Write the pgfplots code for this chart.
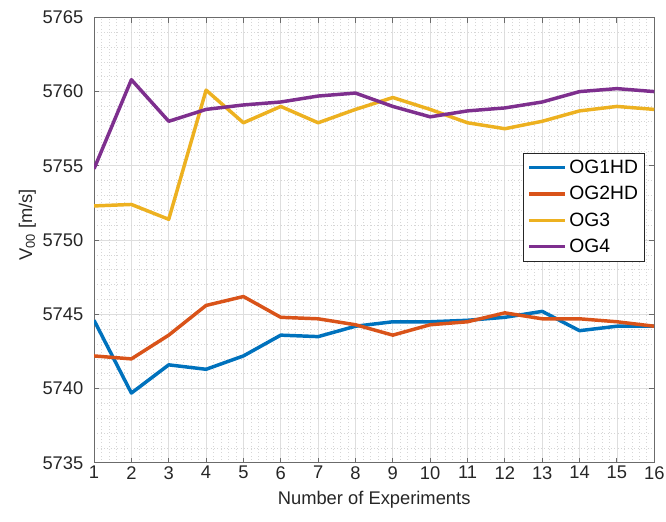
\documentclass[border=0pt]{standalone}
\usepackage{fontspec}
\setmainfont{Liberation Sans}
\usepackage{pgfplots}
\pgfplotsset{compat=1.18}

\definecolor{mblue}{rgb}{0,0.447,0.741}
\definecolor{morange}{rgb}{0.85,0.325,0.098}
\definecolor{myellow}{rgb}{0.929,0.694,0.125}
\definecolor{mpurple}{rgb}{0.494,0.184,0.556}
\definecolor{gridmaj}{rgb}{0.87,0.87,0.87}
\definecolor{gridmin}{rgb}{0.84,0.84,0.84}
\definecolor{axgray}{rgb}{0.42,0.42,0.42}
\definecolor{txt}{rgb}{0.15,0.15,0.15}

\begin{document}
\begin{tikzpicture}
\begin{axis}[
  name=ax,
  scale only axis,
  width=420bp, height=334bp,
  xmin=1, xmax=16, ymin=5735, ymax=5765,
  xtick={1,...,16}, ytick={5735,5740,...,5765},
  minor x tick num=4, minor y tick num=4,
  grid=both,
  major grid style={gridmaj, line width=0.6pt},
  minor grid style={gridmin, line width=0.5pt, dash pattern=on 0.5bp off 2bp},
  axis line style={axgray, line width=0.6pt},
  tick style={axgray, line width=0.7pt},
  major tick length=4bp, minor tick length=0pt,
  tick align=inside,
  /pgf/number format/assume math mode=true,
  /pgf/number format/set thousands separator={},
  tick label style={font=\fontsize{13.8}{15}\selectfont, text=txt},
  xticklabel style={yshift=1bp},
  yticklabel style={xshift=-4.5bp},
  label style={font=\fontsize{13.8}{15}\selectfont, text=txt},
  xlabel={Number of Experiments},
  ylabel={V\textsubscript{00} [m/s]},
  xlabel style={at={(axis description cs:0.5,-0.0943)}, anchor=base},
  ylabel style={at={(axis description cs:-0.1107,0.534)}, anchor=base},
  legend style={at={(0.9835,0.6965)}, anchor=north east,
    font=\fontsize{14.5}{15}\selectfont, draw=black!85, line width=0.6pt,
    fill=white, row sep=4.2bp, inner xsep=3bp, inner ysep=3.2bp,
    /tikz/every even column/.style={column sep=0bp}},
  legend cell align=left,
  legend image code/.code={\draw[#1, line width=2.6bp] (0bp,0bp) -- (27bp,0bp);},
  every axis plot/.append style={line width=2.6bp, line join=round},
]
\addplot[mblue] coordinates {
 (1,5744.6) (2,5739.7) (3,5741.6) (4,5741.3) (5,5742.2) (6,5743.6) (7,5743.5) (8,5744.2)
 (9,5744.5) (10,5744.5) (11,5744.6) (12,5744.8) (13,5745.2) (14,5743.9) (15,5744.2) (16,5744.2)};
\addplot[morange] coordinates {
 (1,5742.2) (2,5742.0) (3,5743.6) (4,5745.6) (5,5746.2) (6,5744.8) (7,5744.7) (8,5744.3)
 (9,5743.6) (10,5744.3) (11,5744.5) (12,5745.1) (13,5744.7) (14,5744.7) (15,5744.5) (16,5744.2)};
\addplot[myellow] coordinates {
 (1,5752.3) (2,5752.4) (3,5751.4) (4,5760.1) (5,5757.9) (6,5759.0) (7,5757.9) (8,5758.8)
 (9,5759.6) (10,5758.8) (11,5757.9) (12,5757.5) (13,5758.0) (14,5758.7) (15,5759.0) (16,5758.8)};
\addplot[mpurple] coordinates {
 (1,5754.8) (2,5760.8) (3,5758.0) (4,5758.8) (5,5759.1) (6,5759.3) (7,5759.7) (8,5759.9)
 (9,5759.0) (10,5758.3) (11,5758.7) (12,5758.9) (13,5759.3) (14,5760.0) (15,5760.2) (16,5760.0)};
\legend{OG1HD,OG2HD,OG3,OG4}
\end{axis}
% fixed margins around the axis box
\pgfresetboundingbox
\path[use as bounding box] ([shift={(-70.5bp,-43.7bp)}]ax.south west) rectangle ([shift={(8.8bp,13bp)}]ax.north east);
\end{tikzpicture}
\end{document}
